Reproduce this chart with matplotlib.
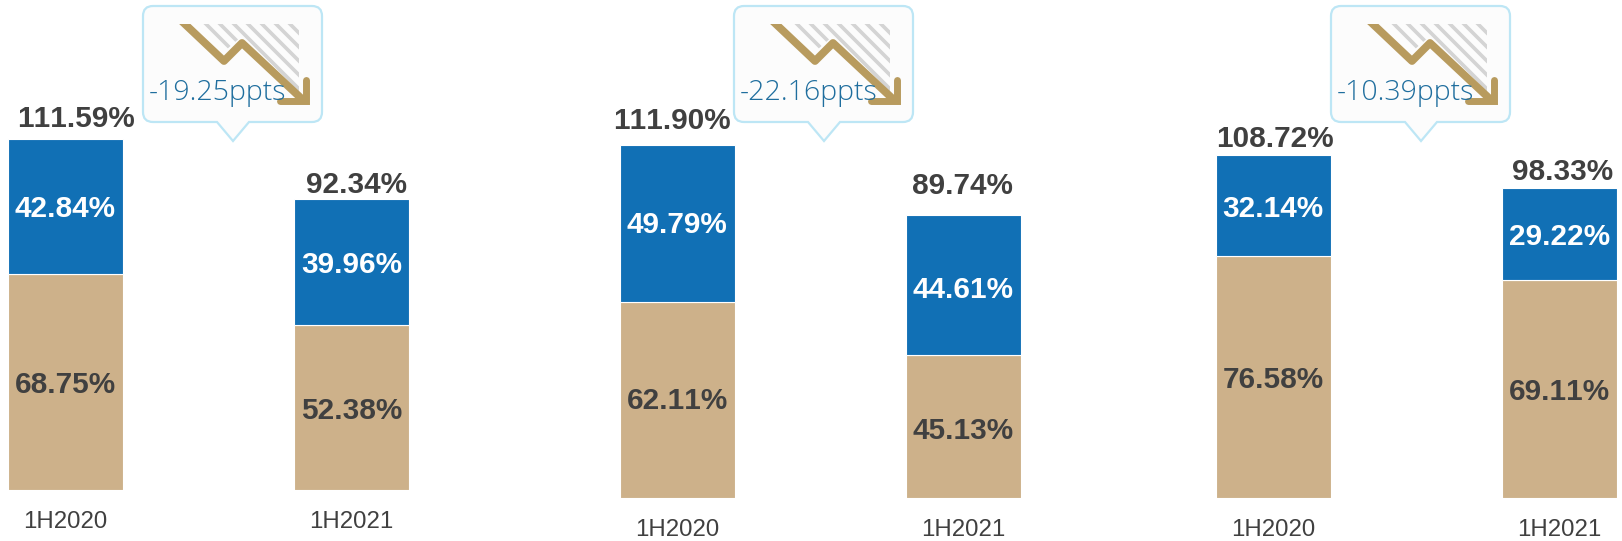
import matplotlib
matplotlib.use("Agg")
import matplotlib.pyplot as plt
from matplotlib.patches import PathPatch, Polygon, Rectangle
from matplotlib.path import Path

W, H = 1622, 541

periods = ["1H2020", "1H2021"]
bottom_values = [[68.75, 52.38], [62.11, 45.13], [76.58, 69.11]]
top_values = [[42.84, 39.96], [49.79, 44.61], [32.14, 29.22]]
total_labels = [["111.59%", "92.34%"], ["111.90%", "89.74%"], ["108.72%", "98.33%"]]
callouts = ["-19.25ppts", "-22.16ppts", "-10.39ppts"]

# panel layout in pixels: left edge, right edge, baseline y
panel_boxes = [(8, 408.5, 490), (620, 1020.5, 497.5), (1216, 1616.5, 497.5)]
callout_shift = [0, 591, 1188]
total_label_shift = [[11, 5], [-5, -1], [1.5, 3]]
total_label_lift = [[20, 14], [24, 29], [16, 16]]
inner_label_drop = [[3, 3], [1, 5], [3, 3]]
BAR_PX = 114.5
PX_PER_UNIT = 3.148

TAN = "#CDB18A"
BLUE = "#1170B5"
DARK = "#404040"
GOLD = "#B89B5E"

plt.rcParams["font.family"] = ["Liberation Sans", "DejaVu Sans"]
plt.rcParams["text.kerning_factor"] = 6
fig = plt.figure(figsize=(W / 100, H / 100), dpi=100)


def draw_panel(box, bottoms, tops, totals, label_shift, label_lift, inner_drop):
    left, right, base = box
    top = 10
    ax = fig.add_axes([left / W, 1 - base / H, (right - left) / W, (base - top) / H])
    width = BAR_PX / (right - left - BAR_PX)
    x = [0, 1]
    ax.bar(x, bottoms, width=width, color=TAN, edgecolor="white", linewidth=0.8)
    ax.bar(x, tops, width=width, bottom=bottoms, color=BLUE, edgecolor="white", linewidth=0.8)
    ax.set_xlim(-width / 2, 1 + width / 2)
    ax.set_ylim(0, (base - top) / PX_PER_UNIT)
    ax.axis("off")
    px_to_x = 1 / (right - left - BAR_PX)
    for i in x:
        low, high = bottoms[i], tops[i]
        drop = inner_drop[i] / PX_PER_UNIT
        ax.text(i, low / 2 - drop, f"{low:.2f}%", ha="center", va="center", fontsize=21.4,
                fontweight="bold", color=DARK)
        ax.text(i, low + high / 2 - drop, f"{high:.2f}%", ha="center", va="center", fontsize=21.4,
                fontweight="bold", color="white")
        ax.text(i + label_shift[i] * px_to_x, low + high + label_lift[i] / PX_PER_UNIT, totals[i],
                ha="center", va="center", fontsize=21.4, fontweight="bold", color=DARK)
        ax.annotate(periods[i], (i, 0), xytext=(0, -32), textcoords="offset pixels", ha="center",
                    va="center", fontsize=17.3, color=DARK, annotation_clip=False)


def draw_callout(over, dx, label):
    # speech bubble with the falling arrow icon, in pixel coordinates
    x0, x1, y0, y1, r = 143 + dx, 322 + dx, 6, 122, 10
    tip = 233 + dx
    verts = [(x0 + r, y0), (x1 - r, y0), (x1, y0), (x1, y0 + r), (x1, y1 - r), (x1, y1), (x1 - r, y1),
             (tip + 16, y1), (tip, 141), (tip - 16, y1), (x0 + r, y1), (x0, y1), (x0, y1 - r),
             (x0, y0 + r), (x0, y0), (x0 + r, y0), (x0 + r, y0)]
    codes = [Path.MOVETO, Path.LINETO, Path.CURVE3, Path.CURVE3, Path.LINETO, Path.CURVE3, Path.CURVE3,
             Path.LINETO, Path.LINETO, Path.LINETO, Path.LINETO, Path.CURVE3, Path.CURVE3,
             Path.LINETO, Path.CURVE3, Path.CURVE3, Path.CLOSEPOLY]
    over.add_patch(PathPatch(Path(verts, codes), facecolor="#FCFCFC", edgecolor="#BDE6F5", linewidth=1.6))

    # hatched area above the arrow
    clip = Polygon([(196 + dx, 24), (299 + dx, 24), (299 + dx, 92), (242 + dx, 36), (226 + dx, 50)],
                   transform=over.transData, facecolor="none", edgecolor="none")
    over.add_patch(clip)
    for start in range(140, 320, 14):
        line, = over.plot([start + dx, start + 90 + dx], [14, 104], color="#D4D4D4", linewidth=2.6,
                          solid_capstyle="butt")
        line.set_clip_path(clip)

    # the arrow starts on a flat cut at the top of the icon
    cut = Rectangle((150 + dx, 24), 170, 90, transform=over.transData, facecolor="none", edgecolor="none")
    over.add_patch(cut)
    shaft, = over.plot([170 + dx, 224 + dx, 242 + dx, 303 + dx], [10, 61, 43, 100], color=GOLD, linewidth=5.6,
                       solid_joinstyle="round", solid_capstyle="butt")
    shaft.set_clip_path(cut)
    over.plot([280 + dx, 306 + dx, 306 + dx], [101, 101, 80], color=GOLD, linewidth=5,
              solid_joinstyle="miter", solid_capstyle="round")
    over.text(149 + dx, 93, label, ha="left", va="center", fontsize=20.5, color="#1F6E9E",
              fontfamily=["Open Sans", "DejaVu Sans"], fontweight="light")


for n in range(3):
    draw_panel(panel_boxes[n], bottom_values[n], top_values[n], total_labels[n], total_label_shift[n],
               total_label_lift[n], inner_label_drop[n])

over = fig.add_axes([0, 0, 1, 1], zorder=5)
over.set_xlim(0, W)
over.set_ylim(H, 0)
over.axis("off")
over.patch.set_alpha(0)
for n in range(3):
    draw_callout(over, callout_shift[n], callouts[n])

fig.savefig("out.png", dpi=100)
